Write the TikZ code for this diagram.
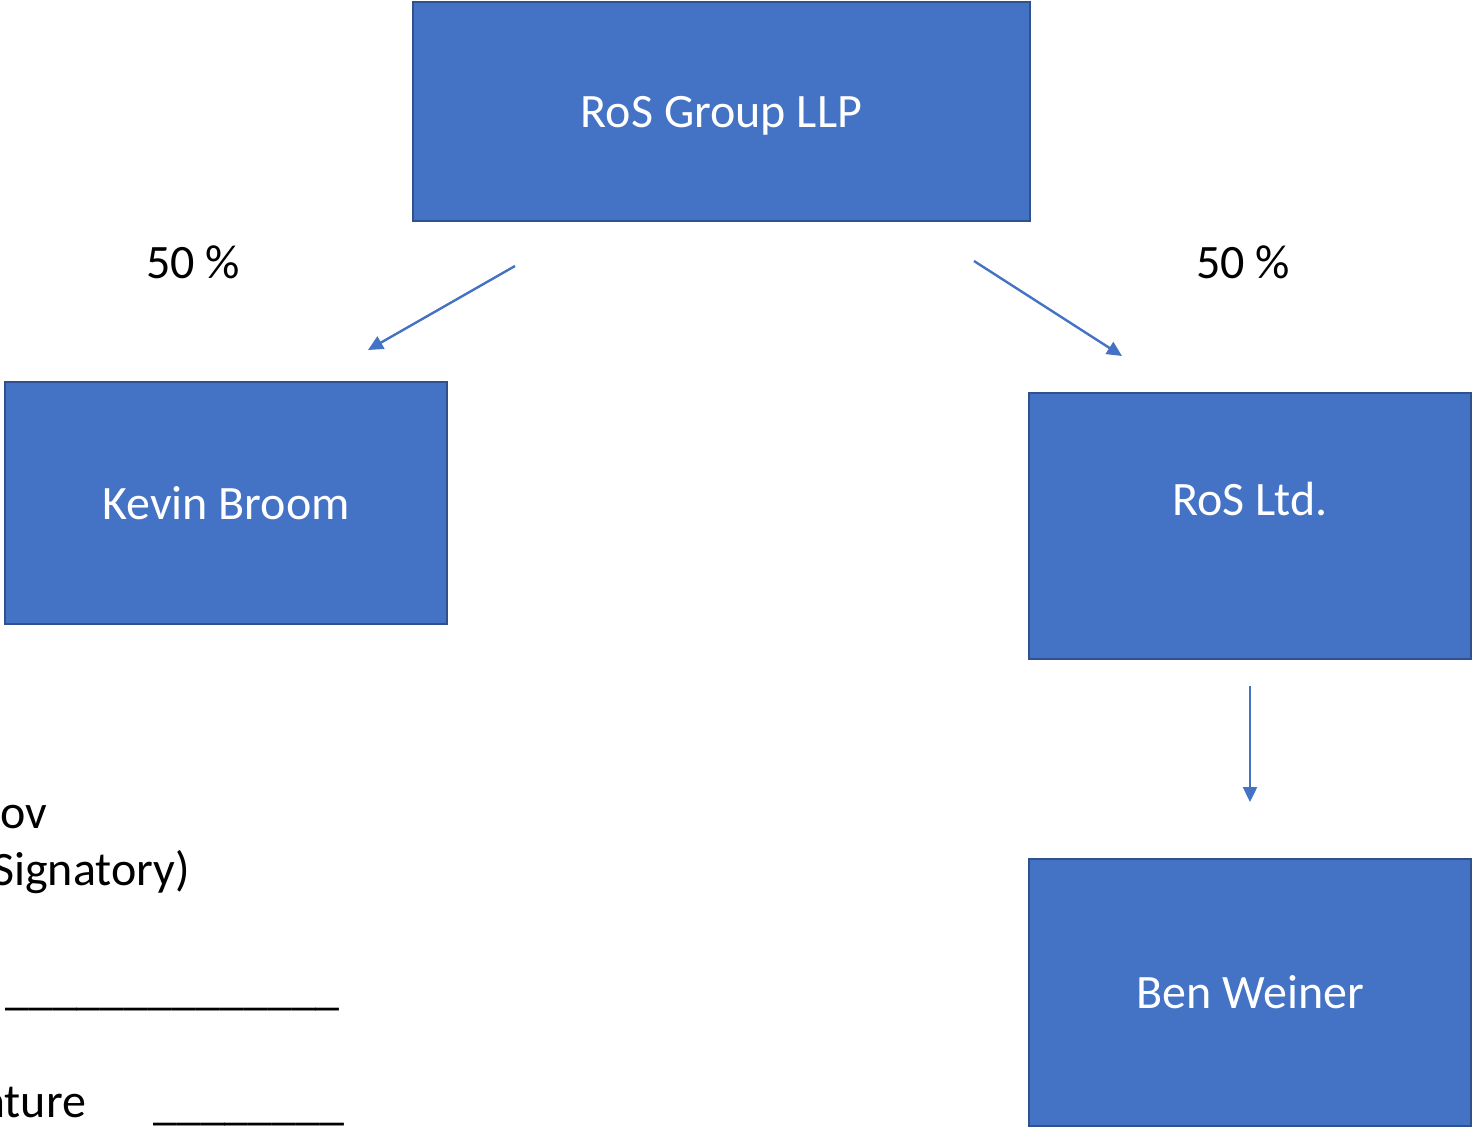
\documentclass[tikz,border=0pt]{standalone}
\usepackage{fontspec}
\setmainfont{Carlito}
\usetikzlibrary{arrows.meta}
\definecolor{boxfill}{HTML}{4472C4}
\definecolor{boxline}{HTML}{2F528F}
\tikzset{
  box/.style={draw=boxline, fill=boxfill, line width=2pt, text=white,
    inner sep=0pt, text depth=0pt},
  arr/.style={draw=boxfill, line width=2.4pt, -{Triangle[length=15pt,width=14pt]}},
  txt/.style={inner sep=0pt, anchor=base west}
}
\begin{document}
\begin{tikzpicture}[x=1pt, y=-1pt, font=\fontsize{48}{58}\selectfont]
    \useasboundingbox (0,0) rectangle (1473,1127);

    \node[box, minimum width=617pt, minimum height=219pt] (group) at (721.5, 111.5) {RoS Group LLP};
    \node[box, minimum width=442pt, minimum height=242pt] (kevin) at (226, 503) {Kevin Broom};
    \node[box, minimum width=442pt, minimum height=266pt] (ltd) at (1250, 526) {};
    \node[text=white] (ltdlabel) at (1250, 499) {RoS Ltd.};
    \node[box, minimum width=442pt, minimum height=267pt] (ben) at (1250, 992) {Ben Weiner};

    \node (pctl) at (193, 262) {50 \%}; \node (pctr) at (1243, 262) {50 \%};

    \coordinate (l1) at (515, 266); \coordinate (l2) at (368, 350);
    \coordinate (r1) at (974, 261); \coordinate (r2) at (1122, 356);
    \coordinate (d1) at (1250, 686); \coordinate (d2) at (1250, 802);
    \draw[arr] (l1) -- (l2); \draw[arr] (r1) -- (r2); \draw[arr] (d1) -- (d2);

    % cut-off signature block on the left
    \node[txt] (name) at (0, 828) {ov};
    \node[txt] (role) at (-8, 885) {Signatory)};
    \node[txt] (line1) at (5, 1004) {\_\_\_\_\_\_\_\_\_\_\_\_\_\_};
    \node[txt] (sign) at (-18, 1117) {ature};
    \node[txt] (line2) at (153, 1119) {\_\_\_\_\_\_\_\_};
\end{tikzpicture}
\end{document}
